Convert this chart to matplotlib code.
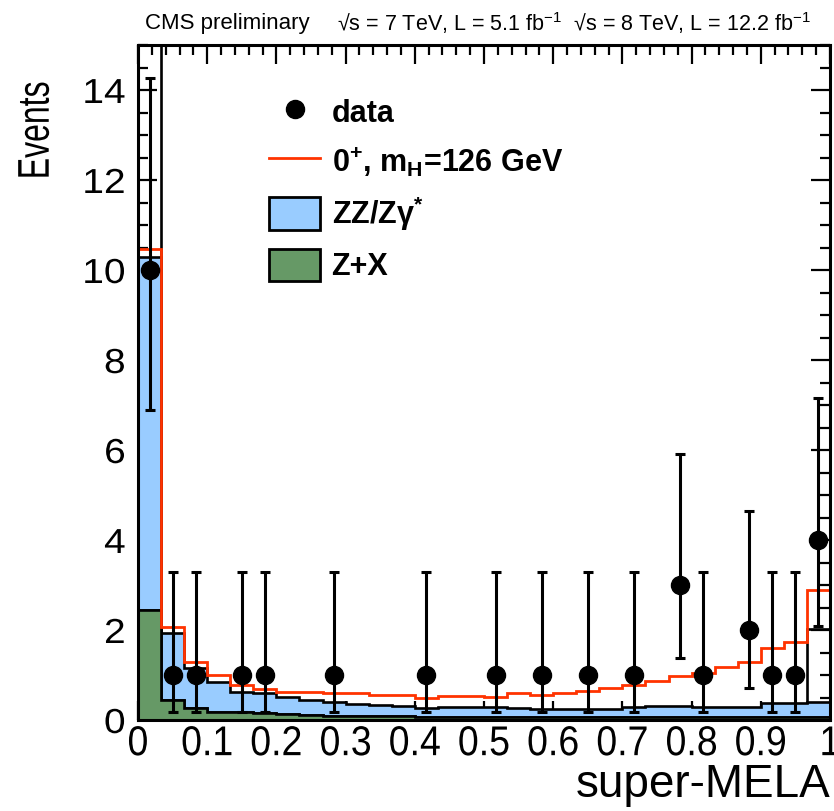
import numpy as np
import matplotlib
matplotlib.use("Agg")
import matplotlib.pyplot as plt
from matplotlib.lines import Line2D
from matplotlib.patches import Patch
from matplotlib.ticker import MultipleLocator
from matplotlib.patheffects import AbstractPathEffect
from matplotlib.transforms import Affine2D

plt.rcParams['font.family'] = ['Liberation Sans', 'DejaVu Sans']
plt.rcParams['mathtext.fontset'] = 'custom'
plt.rcParams['mathtext.rm'] = 'Liberation Sans'
plt.rcParams['mathtext.it'] = 'Liberation Sans:italic'
plt.rcParams['mathtext.bf'] = 'Liberation Sans:bold'


class Condense(AbstractPathEffect):
    """Scale glyphs along the text direction (narrow / wide font look)."""

    def __init__(self, factor, anchor='center'):
        super().__init__()
        self.factor = factor
        self.anchor = anchor

    def draw_path(self, renderer, gc, tpath, affine, rgbFace=None):
        v = tpath.vertices
        if len(v):
            xmin, xmax = v[:, 0].min(), v[:, 0].max()
            cx = {'center': 0.5 * (xmin + xmax), 'right': xmax, 'left': xmin}[self.anchor]
        else:
            cx = 0.0
        aff = Affine2D().translate(-cx, 0).scale(self.factor, 1).translate(cx, 0) + affine
        renderer.draw_path(gc, tpath, aff, rgbFace)


# ---------------- data ----------------
n_bins = 30
bin_edges = np.linspace(0.0, 1.0, n_bins + 1)

# Z+X (green), stacked at the bottom
zx = [2.44, 0.44, 0.26, 0.18, 0.17, 0.15, 0.13, 0.11, 0.10, 0.09,
      0.08, 0.08, 0.07, 0.07, 0.07, 0.06, 0.06, 0.06, 0.06, 0.06,
      0.06, 0.06, 0.06, 0.06, 0.06, 0.06, 0.06, 0.06, 0.06, 0.06]
# ZZ/Zgamma* (blue), stacked on top of Z+X
zz = [7.84, 1.49, 0.89, 0.67, 0.46, 0.44, 0.39, 0.34, 0.30, 0.27,
      0.25, 0.23, 0.20, 0.23, 0.22, 0.22, 0.21, 0.19, 0.18, 0.18,
      0.19, 0.24, 0.25, 0.25, 0.23, 0.23, 0.24, 0.31, 0.32, 0.35]
# 0+, mH=126 GeV signal stacked on the background (red line, total)
sig_total = [10.46, 2.07, 1.30, 1.01, 0.78, 0.70, 0.63, 0.62, 0.59, 0.59,
             0.56, 0.56, 0.50, 0.54, 0.54, 0.52, 0.59, 0.56, 0.59, 0.65,
             0.72, 0.78, 0.87, 0.98, 1.04, 1.18, 1.30, 1.59, 1.74, 2.89]
# black outlined (white) histogram drawn underneath
outline = [16.0, 0, 0, 0, 0, 0, 0, 0, 0, 0,
           0, 0, 0, 0, 0, 0, 0, 0, 0, 0,
           0, 0, 0, 0, 0, 0, 0, 0, 0, 2.02]

# observed data (bin index, events, lower error, upper error)
data_bin = [0, 1, 2, 4, 5, 8, 12, 15, 17, 19, 21, 23, 24, 26, 27, 28, 29]
data_n = [10, 1, 1, 1, 1, 1, 1, 1, 1, 1, 1, 3, 1, 2, 1, 1, 4]
data_lo = [3.11, 0.83, 0.83, 0.83, 0.83, 0.83, 0.83, 0.83, 0.83, 0.83,
           0.83, 1.63, 0.83, 1.29, 0.83, 0.83, 1.91]
data_hi = [4.27, 2.30, 2.30, 2.30, 2.30, 2.30, 2.30, 2.30, 2.30, 2.30,
           2.30, 2.92, 2.30, 2.64, 2.30, 2.30, 3.16]

x_ticks = [0, 0.1, 0.2, 0.3, 0.4, 0.5, 0.6, 0.7, 0.8, 0.9, 1]
x_tick_labels = ['0', '0.1', '0.2', '0.3', '0.4', '0.5', '0.6', '0.7', '0.8', '0.9', '1']
y_ticks = [0, 2, 4, 6, 8, 10, 12, 14]

# ---------------- style ----------------
c_blue = '#99ccff'
c_green = '#669966'
c_red = '#ff3300'
edge_lw = 1.9

fig = plt.figure(figsize=(8.34, 8.11), dpi=100)
ax = fig.add_axes([138 / 834, 1 - 720 / 811, 692 / 834, 675 / 811])

centers = 0.5 * (bin_edges[:-1] + bin_edges[1:])
zx_a = np.array(zx)
zz_a = np.array(zz)

ax.hist(centers, bins=bin_edges, weights=outline, histtype='stepfilled',
        facecolor='white', edgecolor='black', linewidth=edge_lw, zorder=1)
ax.hist([centers, centers], bins=bin_edges, weights=[zx_a, zz_a], stacked=True,
        histtype='stepfilled', color=[c_green, c_blue], edgecolor='black',
        linewidth=edge_lw, zorder=2)
ax.hist(centers, bins=bin_edges, weights=sig_total, histtype='step',
        color=c_red, linewidth=2.0, zorder=3)

xd = centers[data_bin]
ax.errorbar(xd, data_n, yerr=[data_lo, data_hi], fmt='o', color='black',
            markersize=13, elinewidth=2.2, capsize=3.8, capthick=2.2, zorder=5)

ax.set_xlim(0, 1)
ax.set_ylim(0, 15)
ax.set_xticks(x_ticks)
ax.set_xticklabels(x_tick_labels)
ax.set_yticks(y_ticks)
ax.xaxis.set_minor_locator(MultipleLocator(0.02))
ax.yaxis.set_minor_locator(MultipleLocator(0.5))
ax.tick_params(which='both', direction='in', top=True, right=True, width=1.6,
               color='black')
ax.tick_params(which='major', length=13.5)
ax.tick_params(which='minor', length=7)
ax.tick_params(axis='x', labelsize=30, pad=3)
ax.tick_params(axis='y', labelsize=25, pad=9)
for lab in ax.get_xticklabels():
    lab.set_path_effects([Condense(0.9)])
for lab in ax.get_yticklabels():
    lab.set_path_effects([Condense(1.12, anchor='right')])
for sp in ax.spines.values():
    sp.set_linewidth(2.2)
    sp.set_zorder(10)

ax.set_xlabel('super-MELA', fontsize=33, loc='right', labelpad=-1)
ax.set_ylabel('Events', fontsize=32, path_effects=[Condense(0.72)])
ax.yaxis.set_label_coords(-0.116, 0.874)

handles = [
    Line2D([], [], marker='o', color='black', linestyle='none', markersize=13),
    Line2D([], [], color=c_red, linewidth=2.0),
    Patch(facecolor=c_blue, edgecolor='black', linewidth=2.0),
    Patch(facecolor=c_green, edgecolor='black', linewidth=2.0),
]
labels = ['data', r'0$^{\mathbf{+}}$, m$_{\mathbf{H}}$=126 GeV',
          r'ZZ/Z$\mathbf{\gamma}^{\mathbf{*}}$', 'Z+X']
leg = ax.legend(handles, labels, loc='upper left', bbox_to_anchor=(0.19, 0.925),
                frameon=False, prop={'weight': 'bold', 'size': 22},
                handlelength=1.65, handleheight=1.25, labelspacing=0.52,
                handletextpad=0.38, borderpad=0, borderaxespad=0)

fig.text(145 / 834, 1 - 23 / 811, 'CMS preliminary', fontsize=16, va='center', ha='left')
fig.text(811 / 834, 1 - 23 / 811,
         '\u221as = 7 TeV, L = 5.1 fb$^{-1}$  \u221as = 8 TeV, L = 12.2 fb$^{-1}$',
         fontsize=15.5, va='center', ha='right')

fig.savefig('out.png', dpi=100)
